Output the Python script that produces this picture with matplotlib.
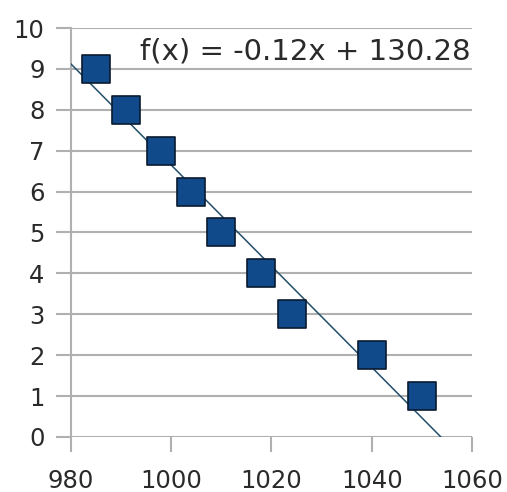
import numpy as np
import matplotlib.pyplot as plt

# data
x_vals = [985, 991, 998, 1004, 1010, 1018, 1024, 1040, 1050]
y_vals = [9, 8, 7, 6, 5, 4, 3, 2, 1]
x_ticks = [980, 1000, 1020, 1040, 1060]
y_ticks = list(range(0, 11))
fit_label = "f(x) = -0.12x + 130.28"

plt.rcParams['font.family'] = ['DejaVu Sans']

fig = plt.figure(figsize=(5.07, 4.92), dpi=100)
ax = fig.add_axes([0.140, 0.112, 0.791, 0.831])

# linear trend line
slope, intercept = np.polyfit(x_vals, y_vals, 1)
x_line = np.linspace(980, -intercept / slope, 200)
ax.plot(x_line, slope * x_line + intercept, color="#234e6b", lw=1.1, zorder=3)

ax.scatter(x_vals, y_vals, marker="s", s=420, color="#114a8b",
           edgecolor="#0a1a30", linewidth=1.2, zorder=4)

ax.text(1059.8, 9.22, fit_label, ha="right", va="baseline", fontsize=21, color="#2a2a2a")

ax.set_xlim(980, 1060)
ax.set_ylim(0, 10)
ax.set_xticks(x_ticks)
ax.set_yticks(y_ticks)
ax.grid(axis="y", color="#b0b0b0", lw=1.5)
ax.set_axisbelow(True)
for s in ["top", "right", "bottom"]:
    ax.spines[s].set_visible(False)
ax.spines["left"].set_color("#b0b0b0")
ax.spines["left"].set_linewidth(1.5)
ax.tick_params(axis="both", colors="#b0b0b0", width=1.5, length=11,
               labelsize=17.5, labelcolor="#2a2a2a", pad=8)
ax.tick_params(axis="x", pad=12)

fig.savefig("out.png", dpi=100)
